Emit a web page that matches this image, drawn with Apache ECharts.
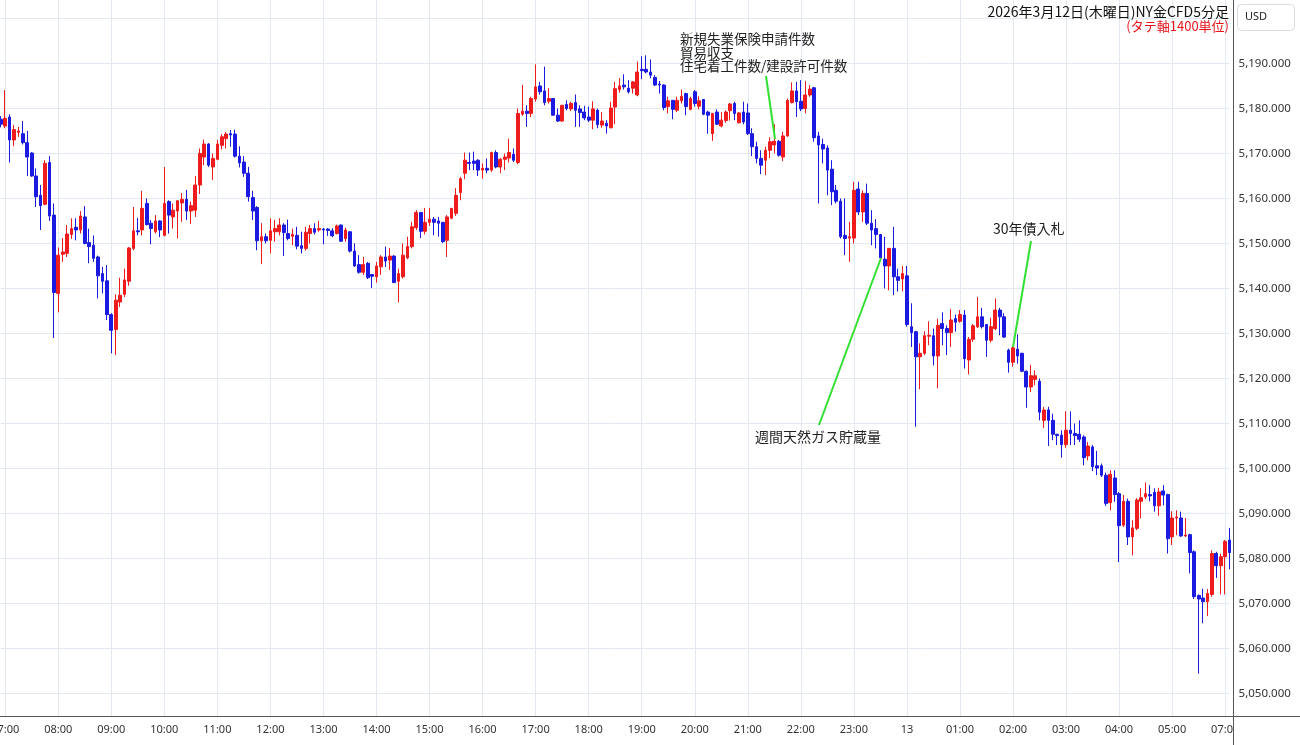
<!DOCTYPE html>
<html><head><meta charset="utf-8">
<script src="https://cdn.jsdelivr.net/npm/echarts@6/dist/echarts.min.js"></script>
<style>html,body{margin:0;padding:0;background:#fff}#c{width:1300px;height:745px}</style>
</head><body><div id="c"></div>
<script>
// 5-minute candles: one leading bar (3/12 05:55), 3/12 07:00 .. 3/13 05:55, then 3/13 07:00, 07:05
const open = [5177.6,
5176.1,5178.1,5173.0,5174.7,5174.4,5172.4,5170.1,5165.0,5160.7,5158.7,5168.0,5156.3,
5138.9,5147.6,5147.8,5152.0,5153.6,5153.0,5155.9,5150.2,5149.6,5147.0,5143.3,5141.7,
5134.2,5130.9,5137.0,5138.7,5141.6,5148.9,5152.8,5153.0,5158.9,5154.5,5152.6,5155.0,
5151.8,5159.3,5155.9,5157.2,5159.0,5159.8,5157.2,5157.4,5163.0,5169.2,5172.1,5167.0,
5168.7,5171.8,5173.3,5174.4,5174.3,5169.4,5168.1,5165.6,5160.2,5158.0,5150.6,5151.5,
5150.7,5152.6,5152.6,5154.1,5152.2,5151.6,5151.8,5149.5,5148.9,5152.2,5153.3,5153.0,
5153.2,5153.2,5152.8,5152.2,5154.1,5151.1,5152.6,5148.3,5145.3,5143.6,5145.6,5143.1,
5142.6,5144.8,5147.0,5146.3,5147.2,5141.6,5142.6,5146.8,5149.3,5153.5,5156.9,5152.7,
5154.7,5155.4,5155.0,5154.7,5150.7,5155.6,5156.7,5161.3,5165.6,5168.0,5168.3,5168.5,
5166.3,5166.7,5166.3,5170.2,5167.0,5168.7,5169.0,5169.8,5168.0,5178.7,5179.4,5178.9,
5182.1,5185.0,5183.9,5181.6,5182.2,5178.5,5177.2,5180.9,5179.9,5181.3,5179.9,5179.2,
5178.1,5177.4,5179.6,5176.3,5176.7,5175.7,5180.3,5184.2,5185.2,5184.5,5184.5,5183.0,
5188.7,5188.7,5188.1,5186.9,5185.4,5185.2,5180.4,5181.8,5179.6,5181.7,5183.3,5179.8,
5183.7,5180.5,5182.0,5179.2,5174.4,5179.2,5176.1,5177.3,5179.5,5181.1,5176.8,5179.2,
5179.0,5174.4,5171.5,5168.9,5168.5,5170.7,5171.9,5172.7,5169.2,5173.9,5181.3,5183.9,
5181.6,5180.0,5183.0,5184.6,5173.9,5172.0,5171.2,5166.5,5161.8,5159.4,5151.8,5151.2,
5151.2,5162.1,5157.0,5161.1,5154.5,5153.3,5152.0,5146.5,5145.0,5148.9,5142.6,5142.1,
5142.8,5131.5,5130.4,5124.8,5125.6,5129.4,5129.5,5125.0,5132.2,5131.1,5130.2,5133.3,
5132.7,5134.1,5124.1,5128.7,5131.5,5133.7,5132.0,5128.5,5131.1,5135.2,5133.7,5126.3,
5123.6,5126.5,5125.6,5121.6,5118.1,5119.8,5119.4,5110.7,5113.0,5110.7,5107.6,5107.4,
5105.3,5108.5,5107.8,5107.6,5107.0,5102.8,5104.8,5100.6,5100.6,5098.5,5092.4,5097.9,
5094.4,5087.4,5092.7,5084.8,5086.7,5092.7,5093.7,5094.2,5094.7,5091.7,5095.0,5094.2,
5084.8,5089.0,5089.0,5085.0,5085.3,5081.5,5071.8,5071.2,5070.4,5072.0,5081.1,5078.4,
5080.4,5084.1];
const close = [5176.5,
5177.8,5173.0,5175.3,5175.0,5172.4,5169.2,5165.0,5160.4,5158.4,5167.8,5156.1,5139.1,
5147.4,5148.1,5152.1,5153.3,5153.0,5156.1,5150.0,5149.3,5146.7,5142.8,5141.6,5134.2,
5130.7,5137.4,5138.5,5141.9,5149.0,5152.8,5152.6,5157.8,5154.2,5153.3,5155.0,5153.0,
5158.9,5156.3,5157.4,5159.5,5159.8,5157.2,5158.4,5163.0,5170.0,5172.1,5167.4,5168.9,
5172.1,5173.7,5174.3,5174.1,5169.4,5167.9,5165.6,5160.4,5157.2,5150.6,5151.5,5150.6,
5152.8,5153.3,5154.1,5152.4,5151.1,5152.0,5149.4,5148.9,5152.5,5153.3,5152.5,5153.3,
5153.0,5152.9,5151.7,5153.9,5150.5,5153.0,5148.3,5145.0,5143.6,5145.3,5142.4,5142.7,
5145.0,5147.0,5146.1,5147.2,5141.3,5143.3,5147.4,5149.3,5153.7,5156.9,5152.7,5154.7,
5155.4,5154.7,5154.5,5150.4,5155.9,5157.8,5160.7,5164.4,5168.5,5167.8,5167.8,5166.3,
5166.7,5166.3,5170.2,5167.0,5168.7,5169.2,5170.2,5168.5,5178.9,5179.4,5178.9,5182.2,
5184.8,5183.7,5181.3,5182.2,5178.5,5177.2,5180.7,5180.0,5181.1,5179.6,5179.1,5177.9,
5177.4,5179.9,5176.4,5177.2,5176.1,5180.1,5184.4,5185.0,5184.8,5183.7,5185.9,5188.1,
5188.4,5188.1,5187.4,5185.2,5185.2,5180.2,5181.7,5179.8,5181.8,5182.7,5180.4,5182.2,
5181.1,5181.7,5178.7,5178.5,5178.9,5176.5,5177.4,5179.2,5181.0,5178.9,5179.0,5177.0,
5174.4,5171.5,5168.9,5167.4,5170.7,5172.6,5172.7,5169.6,5173.9,5181.8,5183.9,5181.5,
5179.9,5183.0,5184.3,5173.5,5171.9,5171.0,5166.3,5161.5,5159.4,5151.5,5151.1,5151.5,
5161.8,5157.0,5161.1,5154.5,5153.0,5152.0,5146.8,5145.0,5148.9,5142.6,5141.8,5143.3,
5132.0,5130.2,5124.8,5125.6,5129.5,5129.6,5125.0,5131.8,5131.1,5130.2,5133.0,5132.5,
5134.2,5124.4,5128.7,5131.7,5133.7,5131.5,5128.5,5131.5,5135.2,5133.7,5129.2,5123.6,
5126.8,5125.0,5121.6,5118.1,5120.6,5120.6,5112.5,5113.0,5110.7,5107.6,5107.3,5105.3,
5108.5,5107.8,5107.3,5106.5,5102.4,5105.0,5100.4,5100.1,5098.5,5092.2,5098.7,5094.2,
5087.3,5092.7,5084.8,5086.8,5093.0,5093.5,5094.4,5093.9,5091.7,5094.8,5094.1,5084.4,
5089.0,5089.2,5085.0,5085.2,5081.3,5071.5,5071.0,5070.4,5072.2,5081.1,5078.4,5080.4,
5083.8,5081.3];
const low = [5175.8,
5175.6,5168.0,5171.6,5173.7,5172.0,5165.0,5164.8,5158.1,5153.0,5158.5,5155.0,5129.0,
5134.7,5145.9,5147.0,5151.0,5150.7,5152.2,5149.8,5145.6,5145.9,5137.8,5138.9,5133.0,
5125.6,5125.2,5135.9,5138.1,5140.6,5148.5,5151.8,5151.8,5154.0,5149.8,5152.2,5151.4,
5151.6,5152.2,5153.3,5151.1,5154.8,5155.2,5154.3,5155.9,5161.0,5167.4,5167.0,5164.1,
5168.5,5170.9,5171.1,5171.5,5169.1,5166.9,5164.8,5159.3,5155.2,5148.5,5145.4,5150.0,
5147.8,5150.4,5151.8,5147.2,5150.7,5149.6,5148.7,5147.8,5148.4,5150.0,5152.0,5152.6,
5149.8,5151.7,5151.4,5152.0,5150.4,5150.4,5148.0,5144.8,5143.3,5143.0,5142.1,5140.1,
5141.3,5143.0,5144.8,5144.1,5141.2,5136.9,5142.2,5146.5,5148.9,5153.0,5151.2,5152.0,
5153.9,5151.8,5151.5,5150.1,5147.0,5155.4,5156.1,5159.6,5164.3,5166.3,5166.3,5165.0,
5164.4,5165.6,5165.9,5166.7,5165.6,5166.3,5168.0,5168.1,5167.6,5178.4,5175.9,5178.1,
5181.5,5183.1,5180.7,5181.1,5178.4,5177.0,5177.0,5179.6,5179.4,5175.9,5175.9,5177.4,
5177.0,5175.4,5175.6,5175.7,5174.4,5175.6,5176.5,5183.5,5184.2,5183.3,5183.3,5182.7,
5186.5,5187.8,5186.7,5185.0,5183.3,5179.6,5178.9,5177.6,5179.2,5181.1,5178.5,5179.6,
5180.4,5179.8,5178.5,5174.4,5172.8,5176.3,5175.8,5176.8,5177.3,5177.4,5176.7,5176.5,
5174.1,5169.4,5167.8,5165.4,5165.2,5169.0,5170.0,5169.3,5168.3,5173.7,5181.1,5178.1,
5179.4,5178.9,5182.6,5172.6,5158.9,5167.8,5160.7,5158.5,5158.9,5151.1,5147.4,5145.9,
5150.0,5156.3,5154.8,5154.1,5149.6,5148.9,5146.7,5140.0,5139.6,5138.5,5139.3,5139.4,
5131.5,5127.0,5109.3,5117.6,5125.2,5127.4,5122.9,5117.8,5127.4,5125.2,5127.0,5130.4,
5132.4,5122.2,5120.9,5128.1,5131.2,5131.1,5124.8,5128.0,5130.7,5129.6,5129.0,5121.3,
5122.6,5123.3,5121.4,5113.5,5117.0,5118.5,5110.7,5109.0,5105.0,5106.3,5105.2,5102.4,
5104.6,5105.2,5105.2,5105.9,5100.7,5101.8,5099.4,5098.5,5098.1,5091.7,5090.7,5092.6,
5079.2,5087.0,5083.0,5080.7,5086.3,5088.9,5093.2,5092.7,5090.4,5089.5,5091.8,5081.1,
5083.0,5085.2,5084.8,5084.8,5076.7,5071.0,5054.4,5065.6,5067.2,5071.5,5075.7,5072.0,
5072.0,5077.6];
const high = [5178.3,
5184.1,5178.7,5176.3,5175.9,5177.2,5175.0,5170.3,5166.7,5163.0,5168.5,5169.4,5158.9,
5149.1,5151.2,5154.1,5155.6,5155.6,5157.2,5158.3,5153.3,5151.8,5147.3,5144.8,5145.2,
5134.5,5138.7,5142.4,5144.4,5149.2,5158.1,5155.7,5161.7,5160.0,5155.2,5156.3,5155.2,
5167.0,5159.6,5158.9,5159.6,5161.2,5161.9,5159.3,5165.0,5171.1,5173.1,5172.3,5170.0,
5173.0,5174.3,5174.8,5175.2,5175.3,5171.6,5169.4,5167.0,5161.7,5158.3,5154.5,5152.2,
5155.6,5155.2,5155.6,5154.5,5155.3,5153.3,5153.7,5152.6,5153.7,5154.1,5154.5,5155.0,
5153.4,5153.4,5153.4,5154.2,5154.2,5153.5,5152.7,5150.0,5147.4,5147.0,5145.9,5143.2,
5145.9,5147.4,5149.3,5149.0,5147.4,5144.4,5150.0,5151.5,5154.8,5157.4,5157.0,5157.9,
5157.9,5155.9,5155.9,5154.7,5156.3,5157.9,5162.3,5164.8,5170.2,5170.2,5170.4,5168.7,
5167.8,5168.9,5170.4,5170.7,5169.0,5170.0,5173.3,5171.1,5180.0,5185.2,5180.7,5182.6,
5189.8,5185.9,5189.3,5184.5,5182.3,5180.0,5180.8,5181.8,5181.5,5183.1,5180.7,5180.6,
5180.4,5181.6,5180.0,5179.2,5177.4,5181.5,5185.9,5186.7,5187.6,5186.3,5186.1,5190.4,
5191.6,5191.8,5190.9,5187.4,5186.1,5185.4,5182.6,5181.9,5182.6,5184.2,5183.5,5182.6,
5184.1,5182.7,5182.1,5179.5,5179.0,5179.8,5179.2,5179.6,5181.2,5181.5,5179.2,5181.5,
5181.1,5175.6,5172.6,5170.7,5171.5,5173.6,5176.5,5173.0,5174.8,5182.2,5185.8,5185.9,
5186.3,5186.1,5185.2,5184.8,5174.8,5173.3,5171.8,5168.5,5163.0,5160.0,5160.0,5154.8,
5163.7,5163.7,5161.8,5163.3,5157.4,5155.4,5152.1,5151.5,5149.0,5153.7,5144.4,5145.0,
5145.0,5136.7,5130.6,5127.8,5130.5,5132.7,5131.1,5133.3,5134.7,5131.8,5135.4,5134.2,
5135.2,5135.2,5129.2,5132.1,5138.1,5135.7,5132.1,5133.5,5137.8,5135.7,5134.5,5126.6,
5127.0,5129.8,5125.7,5121.8,5123.0,5121.8,5120.0,5113.7,5113.7,5112.2,5107.7,5108.5,
5112.7,5112.7,5110.0,5110.7,5107.4,5105.9,5105.2,5103.9,5101.1,5099.1,5099.6,5099.6,
5094.8,5094.1,5093.3,5088.5,5093.4,5095.6,5096.9,5096.3,5095.6,5095.7,5096.3,5094.4,
5090.5,5090.7,5090.4,5089.0,5085.5,5081.8,5072.0,5073.3,5073.2,5081.8,5081.5,5081.1,
5084.1,5086.8];

// time categories (the 06:00-06:55 market break is skipped)
function pad(n){ return (n < 10 ? '0' : '') + n; }
const categories = ['12 05:55'];
for (let m = 7 * 60; m < 7 * 60 + 23 * 60; m += 5) {
  const day = m >= 24 * 60 ? 13 : 12;
  const mm = m % (24 * 60);
  categories.push(day + ' ' + pad(Math.floor(mm / 60)) + ':' + pad(mm % 60));
}
categories.push('13 07:00', '13 07:05');

const candles = open.map((o, i) => [o, close[i], Math.min(low[i], o, close[i]), Math.max(high[i], o, close[i])]);

const UP = '#ee1c1c', DOWN = '#1a1ae0';
const FONT = 'Noto Sans CJK JP';
const isHour = (i, v) => v.slice(-3) === ':00';

const chart = echarts.init(document.getElementById('c'), null, {renderer: 'canvas'});
chart.setOption({
  animation: false,
  backgroundColor: '#ffffff',
  grid: {left: 0.8, right: 70.4, top: 0, bottom: 29, containLabel: false, outerBoundsMode: 'none'},
  xAxis: {
    type: 'category', data: categories, boundaryGap: false,
    axisLine: {show: false}, axisTick: {show: false},
    axisLabel: {
      interval: isHour, margin: 8, color: '#333', fontSize: 11, fontFamily: 'Noto Sans',
      formatter: v => { const t = v.split(' ')[1]; return t === '00:00' ? v.split(' ')[0] : t; }
    },
    splitLine: {show: true, interval: isHour, lineStyle: {color: '#e2e9f0', width: 1}}
  },
  yAxis: {
    type: 'value', position: 'right', min: 5045, max: 5204.1, interval: 5, scale: true,
    axisLine: {show: false}, axisTick: {show: false},
    axisLabel: {
      margin: 9, color: '#333', fontSize: 11.5, fontFamily: 'Noto Sans',
      showMinLabel: false, showMaxLabel: false,
      formatter: v => {
        if (Math.abs(v / 10 - Math.round(v / 10)) > 1e-6) return '';
        return v.toLocaleString('en-US', {minimumFractionDigits: 3, maximumFractionDigits: 3});
      }
    },
    splitLine: {show: true, lineStyle: {color: ['rgba(0,0,0,0)', '#e2e9f0'], width: 1}}
  },
  series: [{
    type: 'candlestick', data: candles, clip: false, barWidth: '72%',
    itemStyle: {color: UP, color0: DOWN, borderColor: UP, borderColor0: DOWN, borderWidth: 1},
    emphasis: {disabled: true}
  }],
  graphic: [
    {type: 'rect', z: 100, silent: true, shape: {x: 1234, y: 717, width: 70, height: 30}, style: {fill: '#fff'}},
    {type: 'line', z: 101, silent: true, shape: {x1: 0, y1: 716.5, x2: 1300, y2: 716.5}, style: {stroke: '#555', lineWidth: 1}},
    {type: 'line', z: 101, silent: true, shape: {x1: 1233.5, y1: 0, x2: 1233.5, y2: 745}, style: {stroke: '#555', lineWidth: 1}},
    {type: 'rect', z: 101, silent: true, shape: {x: 1237.5, y: 4.5, width: 57, height: 26, r: 4}, style: {fill: '#fff', stroke: '#dcdcdc', lineWidth: 1}},
    {type: 'text', z: 102, silent: true, x: 1245, y: 17, style: {text: 'USD', fill: '#222', font: '11px "Noto Sans"', verticalAlign: 'middle'}},
    {type: 'text', z: 102, silent: true, x: 1229, y: 12, style: {text: '2026年3月12日(木曜日)NY金CFD5分足', fill: '#111', font: '14px "' + FONT + '"', align: 'right', verticalAlign: 'middle'}},
    {type: 'text', z: 102, silent: true, x: 1229, y: 26, style: {text: '(タテ軸1400単位)', fill: '#e8141c', font: '13px "' + FONT + '"', align: 'right', verticalAlign: 'middle'}},
    {type: 'text', z: 102, silent: true, x: 680, y: 39, style: {text: '新規失業保険申請件数', fill: '#222', font: '13.5px "' + FONT + '"', verticalAlign: 'middle'}},
    {type: 'text', z: 102, silent: true, x: 680, y: 52.5, style: {text: '貿易収支', fill: '#222', font: '13.5px "' + FONT + '"', verticalAlign: 'middle'}},
    {type: 'text', z: 102, silent: true, x: 680, y: 66, style: {text: '住宅着工件数/建設許可件数', fill: '#222', font: '13.5px "' + FONT + '"', verticalAlign: 'middle'}},
    {type: 'line', z: 102, silent: true, shape: {x1: 766, y1: 76, x2: 775, y2: 139}, style: {stroke: '#33e033', lineWidth: 2}},
    {type: 'text', z: 102, silent: true, x: 993, y: 229, style: {text: '30年債入札', fill: '#222', font: '14px "' + FONT + '"', verticalAlign: 'middle'}},
    {type: 'line', z: 102, silent: true, shape: {x1: 1031, y1: 241, x2: 1013, y2: 347}, style: {stroke: '#33e033', lineWidth: 2}},
    {type: 'text', z: 102, silent: true, x: 755, y: 437, style: {text: '週間天然ガス貯蔵量', fill: '#222', font: '14px "' + FONT + '"', verticalAlign: 'middle'}},
    {type: 'line', z: 102, silent: true, shape: {x1: 819, y1: 425, x2: 881, y2: 258}, style: {stroke: '#33e033', lineWidth: 2}}
  ]
});
</script>
</body></html>
